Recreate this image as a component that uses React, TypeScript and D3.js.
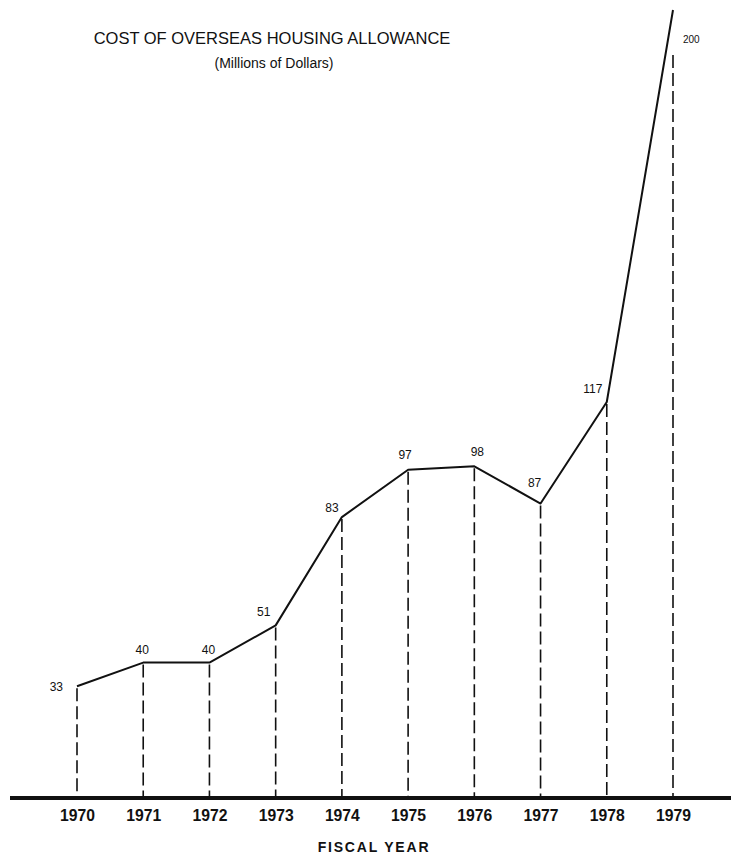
import React from "react";
import * as d3 from "d3";

const years = [1970, 1971, 1972, 1973, 1974, 1975, 1976, 1977, 1978, 1979];
const costs = [33, 40, 40, 51, 83, 97, 98, 87, 117, 200];
const valueLabels = ["33", "40", "40", "51", "83", "97", "98", "87", "117", "200"];
const titleText = "COST OF OVERSEAS HOUSING ALLOWANCE";
const subtitleText = "(Millions of Dollars)";
const axisTitle = "FISCAL YEAR";

// label placement relative to each point: [dx, dy, anchor]
const labelPlace: [number, number, string][] = [
  [-14, 5, "end"],
  [-1, -9, "middle"],
  [-1, -9, "middle"],
  [-12, -9, "middle"],
  [-10, -5, "middle"],
  [-3, -11, "middle"],
  [3, -10, "middle"],
  [-6, -17, "middle"],
  [-14, -9, "middle"],
  [10, 33, "start"],
];

const W = 731;
const H = 856;

export default function App() {
  const x = d3.scalePoint<number>().domain(years).range([77, 673]);
  const y = d3.scaleLinear().domain([0, 117, 200]).range([798, 402, 10]);
  const base = y(0);

  const line = d3
    .line<number>()
    .x((_, i) => x(years[i]) as number)
    .y((d) => y(d));

  const valueFont = "'Liberation Sans', Arial, sans-serif";
  const yearFont = "'Liberation Sans', Arial, sans-serif";

  return (
    <svg
      width={W}
      height={H}
      viewBox={`0 0 ${W} ${H}`}
      style={{ position: "absolute", left: 0, top: 0, background: "#fff" }}
    >
      <rect x={0} y={0} width={W} height={H} fill="#fff" />
      <text x={272} y={44} textAnchor="middle" fontFamily={valueFont} fontSize={16.5} fill="#111">
        {titleText}
      </text>
      <text x={274} y={68} textAnchor="middle" fontFamily={valueFont} fontSize={14} fill="#111">
        {subtitleText}
      </text>

      {costs.map((c, i) => (
        <line
          key={"v" + i}
          x1={x(years[i])}
          x2={x(years[i])}
          y1={y(c) + (i === costs.length - 1 ? 45 : 2)}
          y2={base}
          stroke="#111"
          strokeWidth={1.6}
          strokeDasharray="13,5"
        />
      ))}

      <path d={line(costs) || ""} fill="none" stroke="#111" strokeWidth={2} strokeLinejoin="round" />

      <line x1={10} x2={731} y1={base} y2={base} stroke="#111" strokeWidth={4} />

      {costs.map((c, i) => (
        <text
          key={"l" + i}
          x={(x(years[i]) as number) + labelPlace[i][0]}
          y={y(c) + labelPlace[i][1]}
          textAnchor={labelPlace[i][2] as any}
          fontFamily={valueFont}
          fontSize={i === 9 ? 10 : 12}
          fill="#111"
        >
          {valueLabels[i]}
        </text>
      ))}

      {years.map((yr) => (
        <text
          key={"y" + yr}
          x={(x(yr) as number) - 17}
          y={821}
          textLength={35}
          lengthAdjust="spacingAndGlyphs"
          fontFamily={yearFont}
          fontWeight="bold"
          fontSize={17}
          fill="#111"
        >
          {yr}
        </text>
      ))}

      <text
        x={374}
        y={852}
        textAnchor="middle"
        fontFamily={yearFont}
        fontWeight="bold"
        fontSize={14}
        letterSpacing={1.8}
        fill="#111"
      >
        {axisTitle}
      </text>
    </svg>
  );
}
